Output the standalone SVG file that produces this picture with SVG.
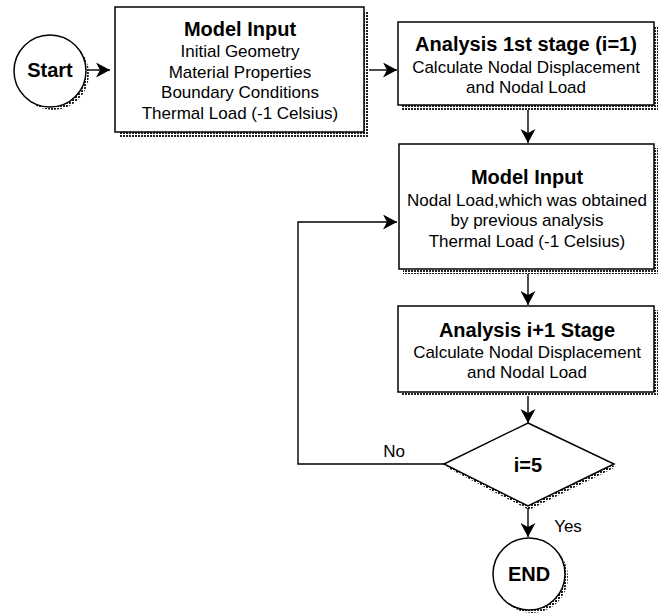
<svg xmlns="http://www.w3.org/2000/svg" width="658" height="613" viewBox="0 0 658 613">
<defs>
<pattern id="hatch" width="3" height="3" patternUnits="userSpaceOnUse">
<rect width="3" height="3" fill="#fff"/>
<rect width="2" height="2" fill="#222"/>
</pattern>
<marker id="arr" markerWidth="15" markerHeight="15" refX="14" refY="7.5" orient="auto" markerUnits="userSpaceOnUse">
<path d="M0,0 L14,7.5 L0,15 L4,7.5 Z" fill="#000"/>
</marker>
</defs>
<style>
.box{fill:#fff;stroke:#000;stroke-width:1.5}
.sh{fill:url(#hatch);stroke:none}
.t{font-family:"Liberation Sans",Arial,sans-serif;font-size:17px;fill:#000;text-anchor:middle}
.b{font-family:"Liberation Sans",Arial,sans-serif;font-size:20px;font-weight:bold;fill:#000;text-anchor:middle}
.ln{fill:none;stroke:#000;stroke-width:1.4}
</style>
<rect width="658" height="613" fill="#fff"/>

<g id="start">
<circle class="sh" cx="53" cy="74" r="36"/>
<circle class="box" cx="50" cy="71" r="36"/>
<text class="b" x="50" y="77">Start</text>
</g>

<g id="model-input-1">
<rect class="sh" x="119" y="11" width="250" height="126"/>
<rect class="box" x="115" y="7" width="249" height="125"/>
<text class="b" x="240" y="36">Model Input</text>
<text class="t" x="240" y="57">Initial Geometry</text>
<text class="t" x="240" y="78">Material Properties</text>
<text class="t" x="240" y="98">Boundary Conditions</text>
<text class="t" x="240" y="119">Thermal Load (-1 Celsius)</text>
</g>

<g id="analysis-1">
<rect class="sh" x="402" y="26" width="256" height="84"/>
<rect class="box" x="398" y="22" width="256" height="83"/>
<text class="b" x="526" y="51">Analysis 1st stage (i=1)</text>
<text class="t" x="526" y="73">Calculate Nodal Displacement</text>
<text class="t" x="526" y="93">and Nodal Load</text>
</g>

<g id="model-input-2">
<rect class="sh" x="403" y="148" width="255" height="126"/>
<rect class="box" x="399" y="144" width="255" height="125"/>
<text class="b" x="527" y="184">Model Input</text>
<text class="t" x="527" y="206">Nodal Load,which was obtained</text>
<text class="t" x="527" y="226">by previous analysis</text>
<text class="t" x="527" y="247">Thermal Load (-1 Celsius)</text>
</g>

<g id="analysis-i1">
<rect class="sh" x="402" y="310" width="256" height="86"/>
<rect class="box" x="398" y="306" width="256" height="86"/>
<text class="b" x="527" y="337">Analysis i+1 Stage</text>
<text class="t" x="527" y="358">Calculate Nodal Displacement</text>
<text class="t" x="527" y="378">and Nodal Load</text>
</g>

<g id="decision">
<polygon class="sh" points="529,427 616,467 529,510 446,467"/>
<polygon class="box" points="528,423 614,464 528,506 444,464"/>
<text class="b" x="528" y="472">i=5</text>
</g>

<g id="end">
<circle class="sh" cx="532" cy="577" r="36"/>
<circle class="box" cx="529" cy="574" r="36"/>
<text class="b" x="529" y="581">END</text>
</g>

<g id="connectors">
<line class="ln" x1="88" y1="70" x2="110" y2="70" marker-end="url(#arr)"/>
<line class="ln" x1="369" y1="70" x2="397" y2="70" marker-end="url(#arr)"/>
<line class="ln" x1="528" y1="110" x2="528" y2="143" marker-end="url(#arr)"/>
<line class="ln" x1="528" y1="274" x2="528" y2="305" marker-end="url(#arr)"/>
<line class="ln" x1="528" y1="396" x2="528" y2="423" marker-end="url(#arr)"/>
<line class="ln" x1="528" y1="508" x2="528" y2="537" marker-end="url(#arr)"/>
<polyline class="ln" points="444,464 298,464 298,222 397,222" marker-end="url(#arr)"/>
<text class="t" x="394" y="457">No</text>
<text class="t" x="568" y="532">Yes</text>
</g>
</svg>
